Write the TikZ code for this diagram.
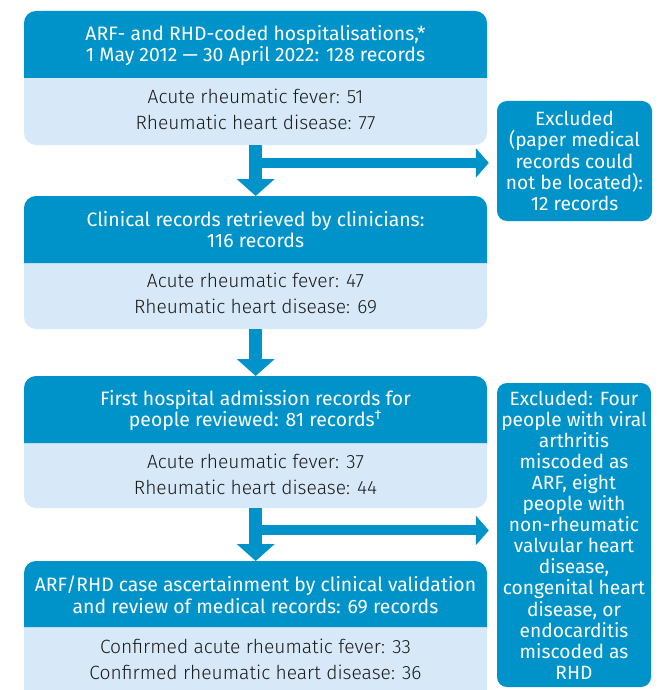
\documentclass[tikz,border=0pt]{standalone}
\usepackage{fontspec}
\setmainfont{Fira Sans}
\newfontfamily\lightfont{Fira Sans Light}
\usetikzlibrary{arrows.meta,calc}
\definecolor{dkblue}{HTML}{0093C9}
\definecolor{ltblue}{HTML}{D7E9F8}
\definecolor{txt}{HTML}{1A1A1A}
\begin{document}
\begin{tikzpicture}[x=1pt,y=-1pt,
  hdr/.style={text=white,align=center,font=\fontsize{19.4}{21.3}\selectfont},
  body/.style={text=txt,align=center,font=\lightfont\fontsize{19.2}{26}\selectfont},
  exc/.style={fill=dkblue,rounded corners=10pt,text=white,align=center,font=\fontsize{19.2}{21.1}\selectfont,inner sep=0pt},
  vflow/.style={draw=dkblue,line width=13pt,-{Triangle[width=37pt,length=17pt]}},
  hflow/.style={draw=dkblue,line width=10pt,-{Triangle[width=29pt,length=13pt]}},
  frame/.style={inner sep=0pt,minimum width=463pt,anchor=north west}]
\useasboundingbox (0,0) rectangle (662,690);
\begin{scope}
\clip (0,0) rectangle (662,690);
% box 1
\fill[ltblue,rounded corners=12pt] (24,11) rectangle (487,145);
\fill[dkblue] (24,78) {[rounded corners=12pt] -- (24,11) -- (487,11)} -- (487,78) -- cycle;
% box 2
\fill[ltblue,rounded corners=12pt] (24,196) rectangle (487,329);
\fill[dkblue] (24,263) {[rounded corners=12pt] -- (24,196) -- (487,196)} -- (487,263) -- cycle;
% box 3
\fill[ltblue,rounded corners=12pt] (24,376) rectangle (487,508);
\fill[dkblue] (24,443) {[rounded corners=12pt] -- (24,376) -- (487,376)} -- (487,443) -- cycle;
% box 4
\fill[ltblue,rounded corners=12pt] (24,561) rectangle (487,705);
\fill[dkblue] (24,627) {[rounded corners=12pt] -- (24,561) -- (487,561)} -- (487,627) -- cycle;
\end{scope}
\node[frame,minimum height=134pt] (b1) at (24,11) {};
\node[frame,minimum height=133pt] (b2) at (24,196) {};
\node[frame,minimum height=132pt] (b3) at (24,376) {};
\node[frame,minimum height=129pt] (b4) at (24,561) {};
\node[hdr] (t1) at (255.5,45.5) {ARF- and RHD-coded hospitalisations,*\\1 May 2012 --- 30 April 2022: 128 records};
\node[body] (l1) at (255.5,109) {Acute rheumatic fever: 51\\Rheumatic heart disease: 77};
\node[hdr] (t2) at (255.5,229.5) {Clinical records retrieved by clinicians:\\116 records};
\node[body] (l2) at (255.5,293.5) {Acute rheumatic fever: 47\\Rheumatic heart disease: 69};
\node[hdr] (t3) at (255.5,410.5) {First hospital admission records for\\people reviewed: 81 records\textsuperscript{†}};
\node[body] (l3) at (255.5,474) {Acute rheumatic fever: 37\\Rheumatic heart disease: 44};
\node[hdr] (t4) at (255.5,595) {ARF/RHD case ascertainment by clinical validation\\and review of medical records: 69 records};
\node[body] (l4) at (255.5,659) {Confirmed acute rheumatic fever: 33\\Confirmed rheumatic heart disease: 36};
\node[exc,minimum width=155pt,minimum height=120pt] (ex1) at (574.5,161) {\raisebox{-2pt}{\parbox{150pt}{\centering Excluded\\(paper medical\\records could\\not be located):\\12 records}}};
\node[exc,minimum width=154pt,minimum height=304pt] (ex2) at (574,535) {Excluded: Four\\people with viral\\arthritis\\miscoded as\\ARF, eight\\people with\\non-rheumatic\\valvular heart\\disease,\\congenital heart\\disease, or\\endocarditis\\miscoded as\\RHD};
% arrows
\draw[vflow] (b1.south) -- (b2.north);
\coordinate (j1) at ($(b1.south)+(0,17.5)$);
\draw[hflow,shorten >=8pt] (j1) -- (ex1.west |- j1);
\draw[vflow] (b2.south) -- (b3.north);
\draw[vflow] (b3.south) -- (b4.north);
\coordinate (j3) at ($(b3.south)+(0,22)$);
\draw[hflow,shorten >=8pt] (j3) -- (ex2.west |- j3);
\end{tikzpicture}
\end{document}
